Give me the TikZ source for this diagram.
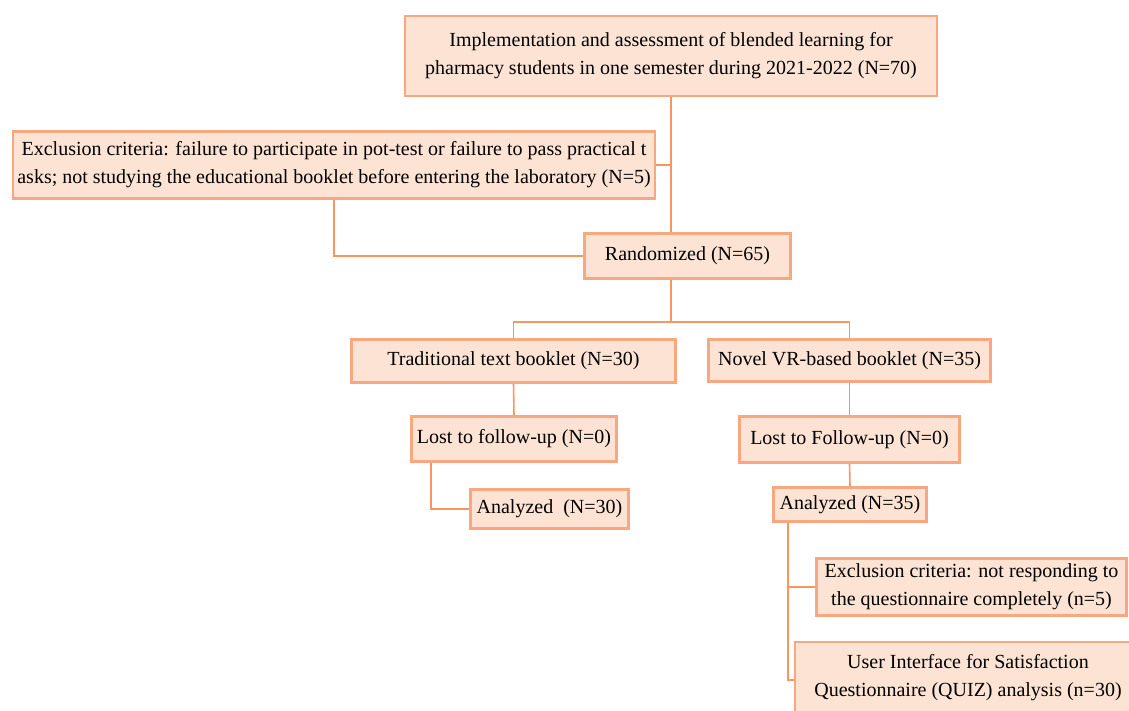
\documentclass[tikz,border=0pt]{standalone}
\usepackage{fontspec}
\setmainfont{Liberation Serif}
\usepackage{tikz}
\usetikzlibrary{positioning,calc}
\definecolor{cfill}{RGB}{253,227,212}
\definecolor{cedge}{RGB}{248,168,128}
\definecolor{cline}{RGB}{247,150,95}

\begin{document}
\begin{tikzpicture}[
  x=0.5pt, y=-0.5pt,
  font=\fontsize{10pt}{14pt}\selectfont,
  flowbox/.style={draw=cedge, fill=cfill, line width=1.4pt, align=center, inner sep=2pt},
  ln/.style={draw=cline, line width=0.8pt},
]
\clip (0,0) rectangle (1129,711);
\node[flowbox, minimum width=266pt, minimum height=40pt] (top) at (671,56) {Implementation and assessment of blended learning for\\ pharmacy students in one semester during 2021-2022 (N=70)};
\node[flowbox, minimum width=321pt, minimum height=33.5pt] (excl) at (334,165) {Exclusion criteria: failure to participate in pot-test or failure to pass practical t\\ asks; not studying the educational booklet before entering the laboratory (N=5)};
\node[flowbox, minimum width=103pt, minimum height=22.5pt] (rand) at (687.5,256) {Randomized (N=65)};
\node[flowbox, minimum width=162pt, minimum height=21.5pt] (trad) at (513.5,361) {Traditional text booklet (N=30)};
\node[flowbox, minimum width=141pt, minimum height=21pt] (novel) at (849.5,360.5) {Novel VR-based booklet (N=35)};
\node[flowbox, minimum width=102.5pt, minimum height=22.5pt] (lostL) at (514,439) {Lost to follow-up (N=0)};
\node[flowbox, minimum width=79pt, minimum height=19.5pt] (anaL) at (549.5,509) {Analyzed~~(N=30)};
\node[flowbox, minimum width=110pt, minimum height=23pt] (lostR) at (849.5,439.5) {Lost to Follow-up (N=0)};
\node[flowbox, minimum width=76.5pt, minimum height=17pt] (anaR) at (850,504.5) {Analyzed (N=35)};
\node[flowbox, minimum width=155pt, minimum height=28.5pt] (excl2) at (971.5,587) {Exclusion criteria: not responding to\\ the questionnaire completely (n=5)};
\node[flowbox, minimum width=185pt, minimum height=38pt] (ui) at (980,680) {};
\node[align=center] (uitext) at (968,678) {User Interface for Satisfaction\\ Questionnaire (QUIZ) analysis (n=30)};
% connectors
\coordinate (split) at (671,322);
\coordinate (trunk) at ([xshift=8pt]anaR.south west);
\draw[ln] (top.south -| split) -- (rand.north -| split);
\draw[ln] (excl.east) -- (excl.east -| split);
\draw[ln] (excl.south) |- (rand.west);
\draw[ln] (rand.south -| split) -- (split);
\draw[ln] (trad.north) |- (split) -| (novel.north);
\draw[ln] (trad.south) -- (lostL.north);
\draw[ln] ([xshift=10.5pt]lostL.south west) |- (anaL.west);
\draw[ln] (novel.south) -- (lostR.north);
\draw[ln] (lostR.south) -- (anaR.north);
\draw[ln] (trunk) |- (ui.west);
\draw[ln] (excl2.west) -- (excl2.west -| trunk);
\end{tikzpicture}
\end{document}
